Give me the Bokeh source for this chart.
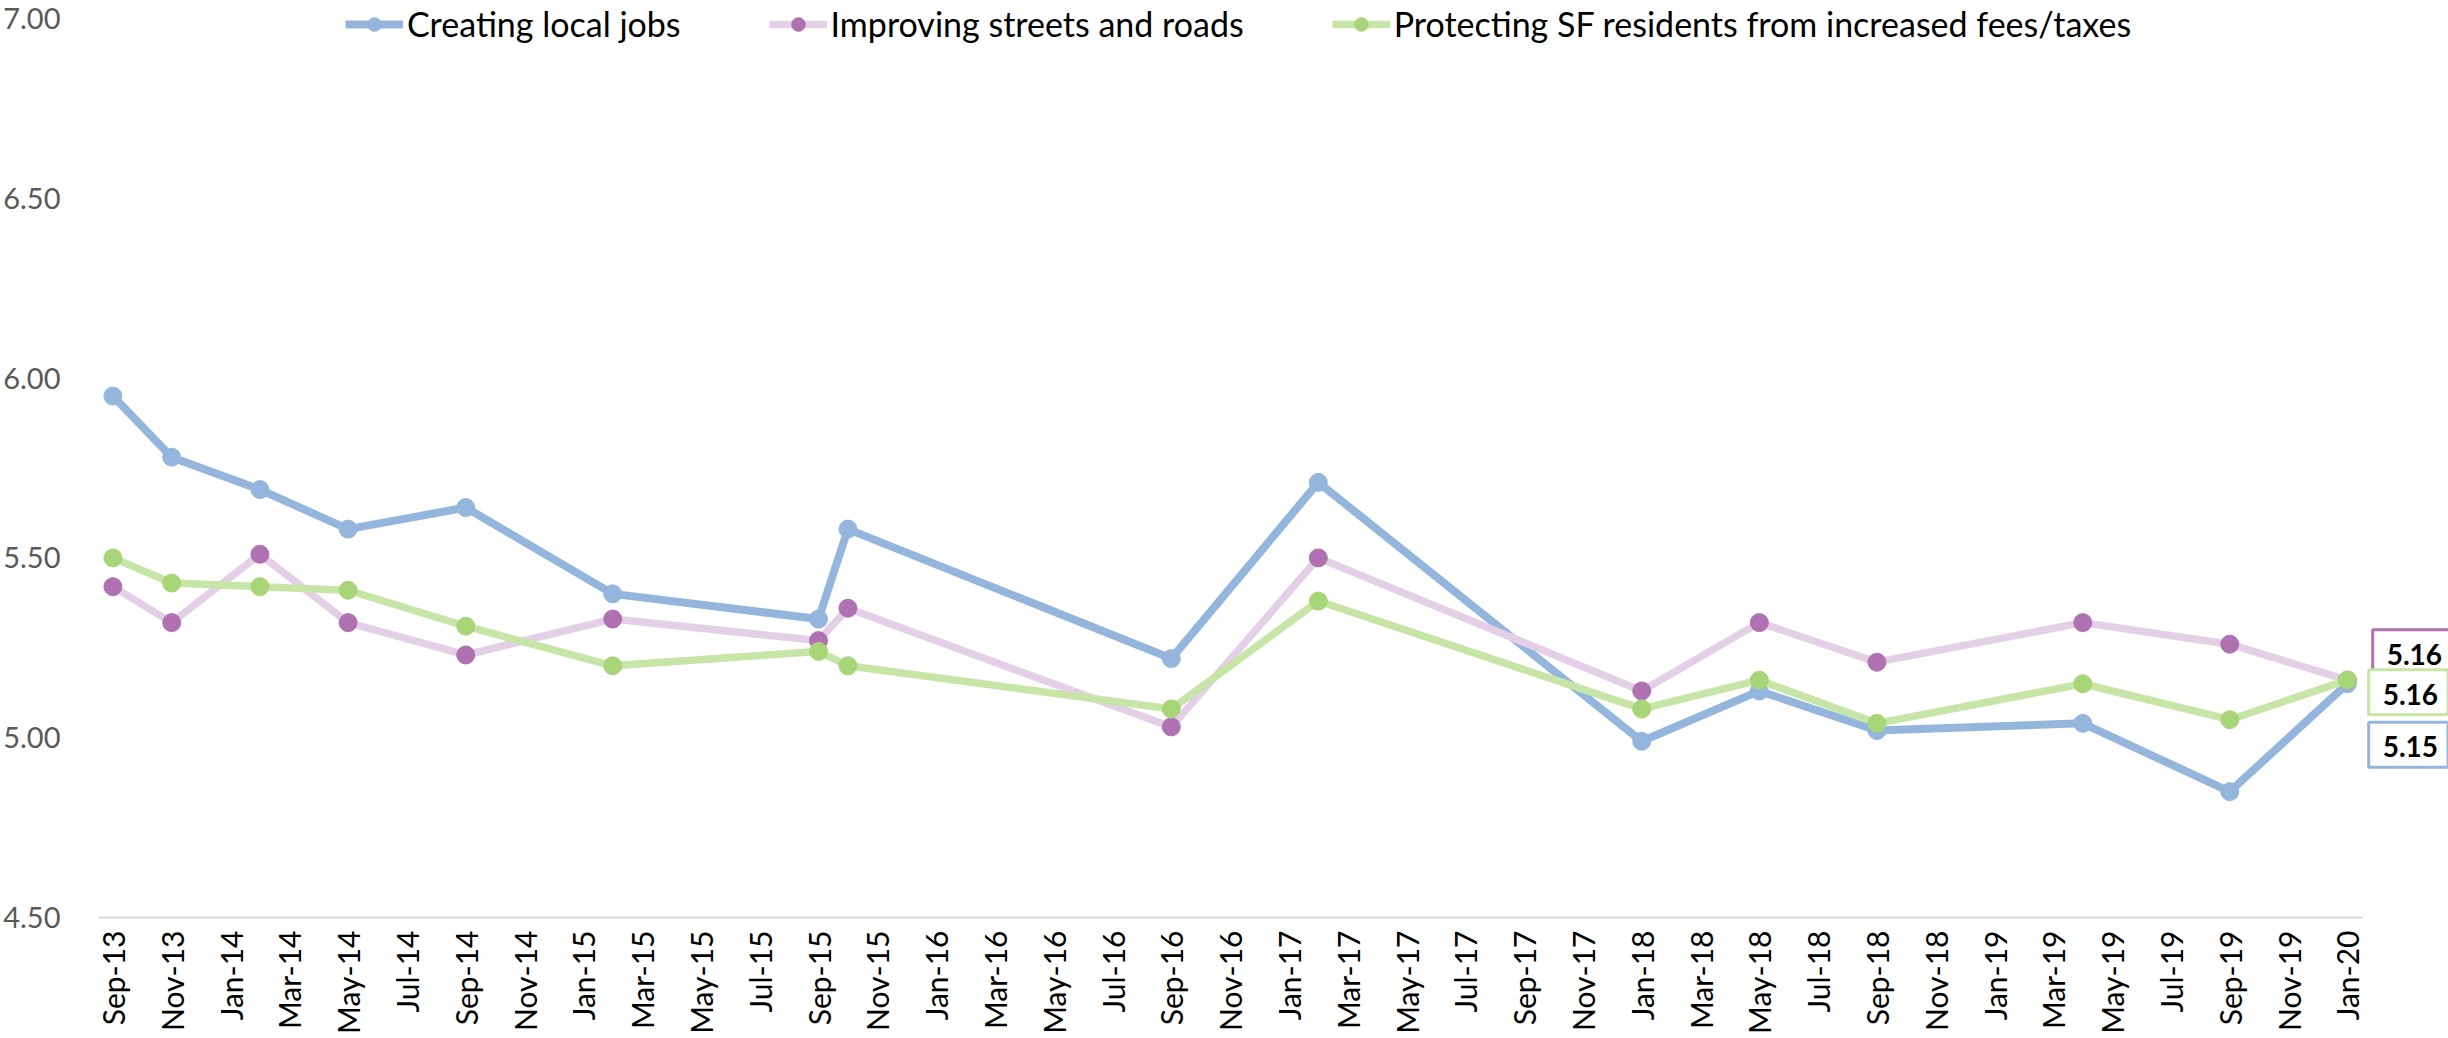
import math
from datetime import datetime
from bokeh.plotting import figure
from bokeh.models import (Range1d, FixedTicker, Legend, LegendItem, Label,
                          PrintfTickFormatter)
from bokeh.embed import file_html
from bokeh.resources import INLINE

# ---------------- data ----------------
survey_dates = ["Sep-13", "Nov-13", "Feb-14", "May-14", "Sep-14", "Feb-15",
                "Sep-15", "Oct-15", "Sep-16", "Feb-17", "Jan-18", "May-18",
                "Sep-18", "Apr-19", "Sep-19", "Jan-20"]

creating_local_jobs = [5.95, 5.78, 5.69, 5.58, 5.64, 5.40, 5.33, 5.58,
                       5.22, 5.71, 4.99, 5.13, 5.02, 5.04, 4.85, 5.15]
improving_streets = [5.42, 5.32, 5.51, 5.32, 5.23, 5.33, 5.27, 5.36,
                     5.03, 5.50, 5.13, 5.32, 5.21, 5.32, 5.26, 5.16]
protecting_residents = [5.50, 5.43, 5.42, 5.41, 5.31, 5.20, 5.24, 5.20,
                        5.08, 5.38, 5.08, 5.16, 5.04, 5.15, 5.05, 5.16]

series_names = ["Creating local jobs", "Improving streets and roads",
                "Protecting SF residents from increased fees/taxes"]

x_tick_labels = ["Sep-13", "Nov-13", "Jan-14", "Mar-14", "May-14", "Jul-14",
                 "Sep-14", "Nov-14", "Jan-15", "Mar-15", "May-15", "Jul-15",
                 "Sep-15", "Nov-15", "Jan-16", "Mar-16", "May-16", "Jul-16",
                 "Sep-16", "Nov-16", "Jan-17", "Mar-17", "May-17", "Jul-17",
                 "Sep-17", "Nov-17", "Jan-18", "Mar-18", "May-18", "Jul-18",
                 "Sep-18", "Nov-18", "Jan-19", "Mar-19", "May-19", "Jul-19",
                 "Sep-19", "Nov-19", "Jan-20"]

y_ticks = [4.50, 5.00, 5.50, 6.00, 6.50, 7.00]


def month_index(s):
    d = datetime.strptime(s, "%b-%y")
    return (d.year - 2013) * 12 + d.month - 9


x = [month_index(s) for s in survey_dates]
tick_pos = [month_index(s) for s in x_tick_labels]

# ---------------- styles ----------------
FONT = "Lato"
blue = "#95B6DC"
purple_line = "#E4D0E6"
purple_marker = "#B071B3"
green_line = "#C6E5A6"
green_marker = "#A8D577"

X_START, X_AXIS_END, X_END = -0.49, 76.5, 79.44
Y_TOP_PAD = 0.05  # headroom above 7.00 so the legend sits inside the frame

p = figure(width=2448, height=1038, output_backend="svg", toolbar_location=None,
           x_range=Range1d(X_START, X_END),
           y_range=Range1d(y_ticks[0], y_ticks[-1] + Y_TOP_PAD),
           min_border_left=95, min_border_right=0, min_border_top=0,
           min_border_bottom=121)
p.outline_line_color = None
p.xgrid.grid_line_color = None
p.ygrid.grid_line_color = None
p.background_fill_color = "white"
p.border_fill_color = "white"

# x axis
p.xaxis.bounds = (X_START, X_AXIS_END)
p.xaxis.ticker = FixedTicker(ticks=tick_pos)
p.xaxis.major_label_overrides = {t: l for t, l in zip(tick_pos, x_tick_labels)}
p.xaxis.major_label_orientation = math.pi / 2
p.xaxis.major_label_text_font = FONT
p.xaxis.major_label_text_font_size = "30px"
p.xaxis.major_label_text_color = "#000000"
p.xaxis.major_label_standoff = 7
p.xaxis.axis_line_color = "#D9D9D9"
p.xaxis.axis_line_width = 2
p.xaxis.major_tick_line_color = None
p.xaxis.minor_tick_line_color = None

# y axis
p.yaxis.ticker = FixedTicker(ticks=y_ticks)
p.yaxis.formatter = PrintfTickFormatter(format="%.2f")
p.yaxis.major_label_text_font = FONT
p.yaxis.major_label_text_font_size = "29px"
p.yaxis.major_label_text_color = "#595959"
p.yaxis.major_label_standoff = 32
p.yaxis.axis_line_color = None
p.yaxis.major_tick_line_color = None
p.yaxis.minor_tick_line_color = None

series = [
    (creating_local_jobs, blue, blue, 8),
    (improving_streets, purple_line, purple_marker, 7.5),
    (protecting_residents, green_line, green_marker, 7.5),
]

items = []
for (vals, lc, mc, lw), name in zip(series, series_names):
    lr = p.line(x, vals, line_color=lc, line_width=lw)
    sr = p.scatter(x, vals, size=18, fill_color=mc, line_color=mc)
    items.append(LegendItem(label=name, renderers=[lr, sr]))

legend = Legend(items=items, orientation="horizontal", location=(247, 873),
                label_text_font=FONT, label_text_font_size="34px",
                label_text_color="#000000", glyph_width=58, glyph_height=34,
                label_standoff=4, spacing=88, padding=0, margin=0,
                border_line_color=None, background_fill_alpha=0)
p.add_layout(legend, "center")

# end-point value boxes
box_specs = [
    (improving_streets, purple_marker, 65, 28),
    (protecting_residents, green_line, 61, -12),
    (creating_local_jobs, blue, 61, -61),
]
for vals, bc, dx, dy in box_specs:
    p.add_layout(Label(x=x[-1], y=vals[-1], x_offset=dx, y_offset=dy,
                       text=f"{vals[-1]:.2f}", text_font=FONT,
                       text_font_style="bold", text_font_size="28px",
                       text_color="#000000", text_align="center",
                       text_baseline="middle", border_line_color=bc,
                       border_line_width=3, background_fill_color="white",
                       padding=(14, 10, 14, 10)))

open("out.html", "w").write(file_html(p, INLINE))
